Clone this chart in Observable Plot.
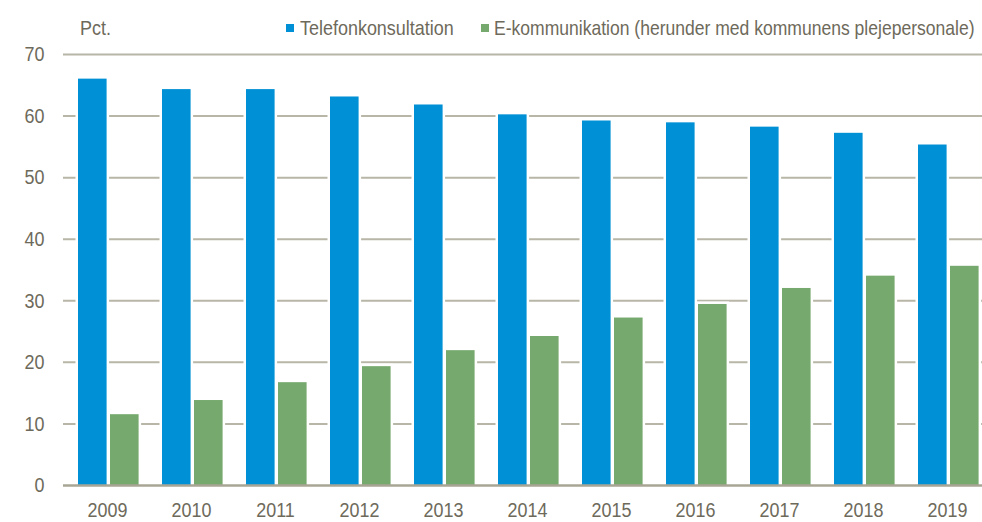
<!DOCTYPE html>
<html>
<head>
<meta charset="utf-8">
<script src="https://cdn.jsdelivr.net/npm/d3@7"></script>
<script src="https://cdn.jsdelivr.net/npm/@observablehq/plot@0.6"></script>
<style>
  html, body { margin: 0; padding: 0; background: #fff; }
  #wrap { position: relative; width: 982px; height: 522px; overflow: hidden;
    font-family: "Liberation Sans", Arial, sans-serif; color: #6E6A5B; }
  #header { position: relative; height: 40px; font-size: 21px; line-height: 21px; }
  .hd { position: absolute; top: 17px; white-space: nowrap; transform: scaleX(0.855); transform-origin: left center; }
  .sw { position: absolute; top: 24px; width: 8px; height: 8px; }
</style>
</head>
<body>
<div id="wrap">
  <div id="header">
    <span class="hd" style="left:80px">Pct.</span>
    <span class="sw" id="sw0" style="left:286px"></span>
    <span class="hd" id="lg0" style="left:300px"></span>
    <span class="sw" id="sw1" style="left:481px"></span>
    <span class="hd" id="lg1" style="left:494px; transform: scaleX(0.835)"></span>
  </div>
  <div id="chart"></div>
</div>
<script>
const years = ["2009","2010","2011","2012","2013","2014","2015","2016","2017","2018","2019"];
const seriesNames = ["Telefonkonsultation", "E-kommunikation (herunder med kommunens plejepersonale)"];
const telefon = [66.0, 64.3, 64.3, 63.1, 61.8, 60.2, 59.2, 58.9, 58.2, 57.2, 55.3];
const ekomm   = [11.5, 13.8, 16.7, 19.3, 21.9, 24.2, 27.2, 29.4, 32.0, 34.0, 35.6];
const yTicks = [0, 10, 20, 30, 40, 50, 60, 70];
const colors = ["#0090D5", "#76A96D"];

document.getElementById("lg0").textContent = seriesNames[0];
document.getElementById("lg1").textContent = seriesNames[1];
document.getElementById("sw0").style.background = colors[0];
document.getElementById("sw1").style.background = colors[1];

const dataT = years.map((y, i) => ({year: y, value: telefon[i]}));
const dataE = years.map((y, i) => ({year: y, value: ekomm[i]}));

const step = 84.4;
const left = 63;
const chart = Plot.plot({
  width: 982,
  height: 482,
  marginTop: 14,
  marginBottom: 37,
  marginLeft: left,
  marginRight: 0,
  style: {fontFamily: '"Liberation Sans", Arial, sans-serif', fontSize: "21px", color: "#6E6A5B", background: "#fff"},
  x: {domain: years, range: [left, left + step * years.length], padding: 0, label: null},
  y: {domain: [0, 70], label: null},
  marks: [
    Plot.ruleY(yTicks.filter(d => d > 0), {stroke: "#B8B6A6", strokeWidth: 2, strokeOpacity: 1}),
    Plot.barY(dataT, {x: "year", y: "value", fill: colors[0], insetLeft: 13, insetRight: step - 13 - 29,
      stroke: "white", strokeWidth: 5, paintOrder: "stroke"}),
    Plot.barY(dataE, {x: "year", y: "value", fill: colors[1], insetLeft: 45, insetRight: step - 45 - 29,
      stroke: "white", strokeWidth: 5, paintOrder: "stroke"}),
    Plot.ruleY([0], {stroke: "#A8A594", strokeWidth: 2.5}),
    Plot.axisY({ticks: yTicks, tickSize: 0, tickPadding: 19, label: null, fill: "#6E6A5B"}),
    Plot.axisX({tickSize: 0, tickPadding: 17, label: null, fill: "#6E6A5B"})
  ]
});
// condense axis tick labels horizontally (narrow font look)
chart.querySelectorAll('g[aria-label="x-axis tick label"] text, g[aria-label="y-axis tick label"] text').forEach(t => {
  const tr = t.getAttribute("transform") || "";
  t.setAttribute("transform", tr + " scale(0.855,1)");
});
document.getElementById("chart").appendChild(chart);
</script>
</body>
</html>
